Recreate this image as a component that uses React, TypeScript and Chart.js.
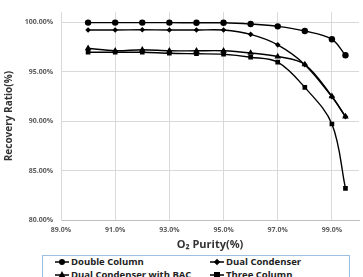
import React, { useEffect, useRef } from "react";
import { Chart, registerables } from "chart.js";

Chart.register(...registerables);

// O2 purity (%) at each operating point
const purity = [90, 91, 92, 93, 94, 95, 96, 97, 98, 99, 99.5];

// Recovery ratio (%) for each process configuration
const doubleColumn = [99.95, 99.95, 99.95, 99.95, 99.93, 99.93, 99.8, 99.57, 99.1, 98.26, 96.65];
const dualCondenser = [99.2, 99.2, 99.22, 99.2, 99.2, 99.2, 98.76, 97.7, 95.7, 92.45, 90.45];
const dualCondenserBAC = [97.35, 97.1, 97.2, 97.1, 97.1, 97.1, 96.88, 96.52, 95.72, 92.5, 90.45];
const threeColumn = [96.95, 96.95, 96.95, 96.85, 96.8, 96.75, 96.45, 95.95, 93.4, 89.7, 83.2];

const xTicks = [89, 91, 93, 95, 97, 99];
const yTicks = [80, 85, 90, 95, 100];

const seriesNames = ["Double Column", "Dual Condenser", "Dual Condenser with BAC", "Three Column"];
const seriesValues = [doubleColumn, dualCondenser, dualCondenserBAC, threeColumn];
const pointStyles = ["circle", "rectRot", "triangle", "rect"] as const;
const pointRadii = [3.2, 2.8, 3.8, 3.3];

const FONT = "'Open Sans', 'DejaVu Sans', sans-serif";

function Marker({ kind }: { kind: string }) {
  let shape: React.ReactNode = null;
  if (kind === "circle") shape = <circle cx={7} cy={5} r={3} fill="#000" />;
  if (kind === "rectRot") shape = <polygon points="7,1.8 10.2,5 7,8.2 3.8,5" fill="#000" />;
  if (kind === "triangle") shape = <polygon points="7,1 10.5,7.5 3.5,7.5" fill="#000" />;
  if (kind === "rect") shape = <rect x={4} y={2} width={6} height={6} fill="#000" />;
  return (
    <svg width={14} height={10} style={{ display: "block" }}>
      <line x1={0} y1={5} x2={14} y2={5} stroke="#000" strokeWidth={1.5} />
      {shape}
    </svg>
  );
}

export default function App() {
  const canvasRef = useRef<HTMLCanvasElement | null>(null);

  useEffect(() => {
    const canvas = canvasRef.current;
    if (!canvas) return;
    const chart = new Chart(canvas, {
      type: "line",
      data: {
        datasets: seriesNames.map((name, i) => ({
          label: name,
          data: purity.map((x, j) => ({ x, y: seriesValues[i][j] })),
          borderColor: "#000",
          backgroundColor: "#000",
          borderWidth: 1.4,
          pointStyle: pointStyles[i],
          pointRadius: pointRadii[i],
          pointBorderWidth: 0,
          pointBackgroundColor: "#000",
          tension: 0.35,
          fill: false,
        })),
      },
      options: {
        responsive: false,
        animation: false,
        devicePixelRatio: 1,
        layout: { padding: { left: 0, right: 0, top: 12, bottom: 26 } },
        plugins: {
          legend: { display: false },
          tooltip: { enabled: false },
        },
        scales: {
          x: {
            type: "linear",
            min: 89,
            max: 100,
            afterBuildTicks: (axis: any) => {
              axis.ticks = xTicks.map((v) => ({ value: v }));
            },
            afterFit: (axis: any) => {
              axis.height = 31;
            },
            grid: { color: "#d9d9d9", drawTicks: false, lineWidth: 1 },
            border: { color: "#bfbfbf" },
            ticks: {
              padding: 6,
              color: "#595959",
              font: { family: FONT, size: 7, weight: "bold" },
              callback: (v: any) => Number(v).toFixed(1) + "%",
              maxRotation: 0,
            },
            title: {
              display: true,
              text: "O₂ Purity(%)",
              color: "#333",
              font: { family: FONT, size: 11, weight: "bold" },
              padding: { top: 4, bottom: 0 },
            },
          },
          y: {
            type: "linear",
            min: 80,
            max: 101,
            afterBuildTicks: (axis: any) => {
              axis.ticks = yTicks.map((v) => ({ value: v }));
            },
            afterFit: (axis: any) => {
              axis.width = 61;
            },
            grid: { color: "#d9d9d9", drawTicks: false, lineWidth: 1 },
            border: { color: "#d9d9d9" },
            ticks: {
              padding: 8,
              color: "#595959",
              font: { family: FONT, size: 7, weight: "bold" },
              callback: (v: any) => Number(v).toFixed(2) + "%",
            },
            title: {
              display: true,
              text: "Recovery Ratio(%)",
              color: "#333",
              font: { family: FONT, size: 10, weight: "bold" },
              padding: { top: 3, bottom: 6 },
            },
          },
        },
      },
    });
    return () => chart.destroy();
  }, []);

  return (
    <div style={{ position: "fixed", left: 0, top: 0, width: 363, height: 277, overflow: "hidden", background: "#fff" }}>
      <canvas ref={canvasRef} width={363} height={277} style={{ position: "absolute", left: 0, top: 0 }} />
      <div
        style={{
          position: "absolute",
          left: 42,
          top: 255,
          width: 306,
          height: 40,
          border: "1px solid #9dbfe3",
          background: "#fff",
          fontFamily: FONT,
          fontWeight: "bold",
          fontSize: 9.5,
          color: "#222",
        }}
      >
        {seriesNames.map((name, i) => (
          <div
            key={name}
            style={{
              position: "absolute",
              left: i % 2 === 0 ? 12 : 167,
              top: i < 2 ? 0 : 13,
              height: 12,
              display: "flex",
              alignItems: "center",
              whiteSpace: "nowrap",
            }}
          >
            <Marker kind={pointStyles[i]} />
            <span style={{ marginLeft: 2, lineHeight: "12px" }}>{name}</span>
          </div>
        ))}
      </div>
    </div>
  );
}
